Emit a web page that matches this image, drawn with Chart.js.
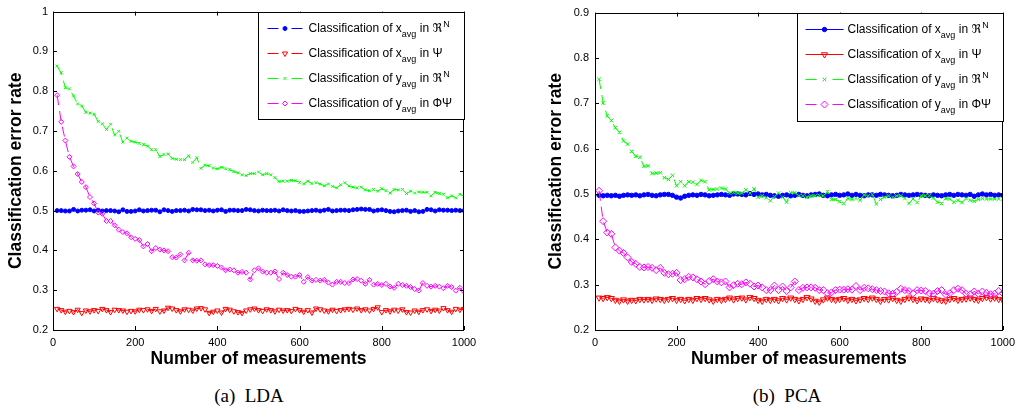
<!DOCTYPE html>
<html>
<head>
<meta charset="utf-8">
<title>Classification error rate</title>
<script src="https://cdn.jsdelivr.net/npm/chart.js@4.4.1/dist/chart.umd.min.js"></script>
<style>
    body {
        margin: 0;
        background: #fff;
        width: 1021px;
        height: 412px;
        position: relative;
        overflow: hidden;
    }
    canvas {
        position: absolute;
        top: 0;
    }
    #lda-chart { left: 0; }
    #pca-chart { left: 540px; }
    .caption {
        position: absolute;
        top: 385px;
        width: 200px;
        text-align: center;
        font: 19px 'Liberation Serif', 'Times New Roman', serif;
        white-space: pre;
        color: #000;
    }
</style>
</head>
<body>
<canvas id="lda-chart" width="490" height="372"></canvas>
<canvas id="pca-chart" width="481" height="372"></canvas>
<div class="caption" style="left:149px">(a)  LDA</div>
<div class="caption" style="left:687px">(b)  PCA</div>
<script>
// Number of measurements (x axis)
const measurements = [
    10, 20, 30, 40, 50, 60, 70, 80, 90, 100,
    110, 120, 130, 140, 150, 160, 170, 180, 190, 200,
    210, 220, 230, 240, 250, 260, 270, 280, 290, 300,
    310, 320, 330, 340, 350, 360, 370, 380, 390, 400,
    410, 420, 430, 440, 450, 460, 470, 480, 490, 500,
    510, 520, 530, 540, 550, 560, 570, 580, 590, 600,
    610, 620, 630, 640, 650, 660, 670, 680, 690, 700,
    710, 720, 730, 740, 750, 760, 770, 780, 790, 800,
    810, 820, 830, 840, 850, 860, 870, 880, 890, 900,
    910, 920, 930, 940, 950, 960, 970, 980, 990, 1000
];

const xTicks = [0, 200, 400, 600, 800, 1000];
const ldaYTicks = [0.2, 0.3, 0.4, 0.5, 0.6, 0.7, 0.8, 0.9, 1];
const pcaYTicks = [0.2, 0.3, 0.4, 0.5, 0.6, 0.7, 0.8, 0.9];

// legend text pieces: main text, subscript, text after, superscript
const legendParts = [
    ['Classification of x', 'avg', ' in \u211C', 'N'],
    ['Classification of x', 'avg', ' in \u03A8', ''],
    ['Classification of y', 'avg', ' in \u211C', 'N'],
    ['Classification of y', 'avg', ' in \u03A6\u03A8', '']
];

// (a) LDA
const ldaXavgRN = [
    0.500, 0.500, 0.499, 0.499, 0.503, 0.499, 0.501, 0.501, 0.502, 0.499,
    0.501, 0.499, 0.500, 0.500, 0.499, 0.497, 0.502, 0.498, 0.498, 0.499,
    0.502, 0.499, 0.500, 0.501, 0.501, 0.497, 0.502, 0.500, 0.498, 0.500,
    0.500, 0.501, 0.499, 0.503, 0.502, 0.502, 0.500, 0.501, 0.499, 0.501,
    0.502, 0.498, 0.501, 0.501, 0.500, 0.500, 0.503, 0.502, 0.500, 0.499,
    0.501, 0.500, 0.500, 0.501, 0.499, 0.502, 0.500, 0.499, 0.500, 0.498,
    0.498, 0.499, 0.500, 0.501, 0.499, 0.501, 0.503, 0.499, 0.500, 0.501,
    0.501, 0.500, 0.502, 0.503, 0.504, 0.503, 0.503, 0.499, 0.501, 0.502,
    0.500, 0.498, 0.497, 0.499, 0.500, 0.501, 0.498, 0.500, 0.497, 0.498,
    0.503, 0.502, 0.499, 0.502, 0.501, 0.501, 0.500, 0.501, 0.500, 0.500
];
const ldaXavgPsi = [
    0.253, 0.250, 0.246, 0.248, 0.245, 0.251, 0.243, 0.249, 0.247, 0.250,
    0.248, 0.253, 0.250, 0.245, 0.251, 0.250, 0.249, 0.246, 0.248, 0.247,
    0.251, 0.250, 0.252, 0.248, 0.253, 0.247, 0.249, 0.256, 0.254, 0.250,
    0.247, 0.252, 0.251, 0.249, 0.254, 0.255, 0.252, 0.243, 0.246, 0.249,
    0.244, 0.253, 0.251, 0.247, 0.245, 0.243, 0.249, 0.252, 0.254, 0.250,
    0.248, 0.252, 0.250, 0.247, 0.251, 0.249, 0.250, 0.248, 0.253, 0.250,
    0.246, 0.250, 0.244, 0.254, 0.252, 0.249, 0.247, 0.251, 0.248, 0.250,
    0.252, 0.253, 0.251, 0.254, 0.250, 0.252, 0.249, 0.253, 0.257, 0.245,
    0.250, 0.247, 0.251, 0.249, 0.252, 0.245, 0.244, 0.249, 0.246, 0.250,
    0.252, 0.248, 0.251, 0.249, 0.255, 0.250, 0.246, 0.253, 0.251, 0.253
];
const ldaYavgRN = [
    0.863, 0.846, 0.809, 0.806, 0.788, 0.768, 0.763, 0.747, 0.745, 0.742,
    0.724, 0.718, 0.704, 0.717, 0.690, 0.699, 0.672, 0.682, 0.674, 0.672,
    0.669, 0.666, 0.662, 0.653, 0.653, 0.636, 0.641, 0.642, 0.631, 0.629,
    0.628, 0.628, 0.638, 0.621, 0.633, 0.606, 0.614, 0.613, 0.607, 0.605,
    0.609, 0.605, 0.603, 0.598, 0.595, 0.590, 0.588, 0.593, 0.593, 0.597,
    0.590, 0.593, 0.590, 0.583, 0.573, 0.574, 0.574, 0.576, 0.575, 0.571,
    0.567, 0.574, 0.568, 0.570, 0.567, 0.562, 0.567, 0.561, 0.557, 0.565,
    0.570, 0.562, 0.559, 0.557, 0.559, 0.552, 0.550, 0.553, 0.549, 0.555,
    0.550, 0.544, 0.553, 0.552, 0.553, 0.543, 0.549, 0.544, 0.547, 0.546,
    0.546, 0.537, 0.546, 0.543, 0.541, 0.532, 0.537, 0.532, 0.541, 0.536
];
const ldaYavgPhiPsi = [
    0.790, 0.723, 0.676, 0.635, 0.611, 0.592, 0.572, 0.559, 0.534, 0.518,
    0.495, 0.492, 0.474, 0.474, 0.463, 0.452, 0.446, 0.443, 0.433, 0.429,
    0.426, 0.410, 0.416, 0.398, 0.406, 0.402, 0.400, 0.398, 0.383, 0.382,
    0.390, 0.375, 0.394, 0.375, 0.374, 0.375, 0.365, 0.363, 0.363, 0.361,
    0.357, 0.350, 0.352, 0.350, 0.344, 0.346, 0.344, 0.327, 0.350, 0.355,
    0.347, 0.344, 0.344, 0.347, 0.328, 0.344, 0.338, 0.334, 0.334, 0.338,
    0.321, 0.333, 0.324, 0.326, 0.324, 0.326, 0.319, 0.314, 0.321, 0.321,
    0.318, 0.318, 0.327, 0.328, 0.324, 0.316, 0.326, 0.314, 0.316, 0.313,
    0.316, 0.309, 0.306, 0.316, 0.313, 0.311, 0.308, 0.303, 0.299, 0.318,
    0.311, 0.309, 0.311, 0.309, 0.305, 0.311, 0.308, 0.299, 0.306, 0.296
];

// (b) PCA
const pcaXavgRN = [
    0.497, 0.496, 0.497, 0.496, 0.497, 0.495, 0.497, 0.498, 0.497, 0.498,
    0.496, 0.498, 0.499, 0.497, 0.496, 0.498, 0.499, 0.499, 0.497, 0.493,
    0.491, 0.495, 0.497, 0.498, 0.497, 0.499, 0.498, 0.496, 0.497, 0.498,
    0.499, 0.498, 0.497, 0.500, 0.500, 0.499, 0.498, 0.501, 0.499, 0.500,
    0.498, 0.499, 0.497, 0.496, 0.495, 0.497, 0.498, 0.496, 0.497, 0.499,
    0.497, 0.496, 0.498, 0.499, 0.500, 0.497, 0.496, 0.498, 0.499, 0.497,
    0.498, 0.500, 0.497, 0.499, 0.497, 0.496, 0.498, 0.498, 0.497, 0.499,
    0.498, 0.497, 0.496, 0.497, 0.499, 0.498, 0.497, 0.498, 0.499, 0.498,
    0.497, 0.496, 0.498, 0.497, 0.496, 0.498, 0.499, 0.497, 0.499, 0.498,
    0.497, 0.499, 0.495, 0.498, 0.500, 0.498, 0.499, 0.497, 0.498, 0.497
];
const pcaXavgPsi = [
    0.271, 0.270, 0.272, 0.270, 0.266, 0.264, 0.267, 0.264, 0.266, 0.265,
    0.268, 0.267, 0.268, 0.266, 0.269, 0.268, 0.266, 0.268, 0.270, 0.266,
    0.268, 0.265, 0.268, 0.266, 0.270, 0.268, 0.270, 0.267, 0.264, 0.268,
    0.266, 0.268, 0.271, 0.267, 0.270, 0.271, 0.267, 0.272, 0.270, 0.266,
    0.264, 0.268, 0.266, 0.268, 0.265, 0.270, 0.267, 0.271, 0.268, 0.265,
    0.268, 0.272, 0.269, 0.264, 0.262, 0.267, 0.271, 0.268, 0.266, 0.268,
    0.270, 0.266, 0.268, 0.265, 0.267, 0.270, 0.268, 0.271, 0.268, 0.264,
    0.268, 0.267, 0.270, 0.266, 0.264, 0.268, 0.271, 0.268, 0.265, 0.269,
    0.268, 0.266, 0.270, 0.267, 0.265, 0.264, 0.268, 0.270, 0.266, 0.268,
    0.269, 0.271, 0.268, 0.266, 0.270, 0.272, 0.269, 0.271, 0.268, 0.266
];
const pcaYavgRN = [
    0.753, 0.701, 0.672, 0.662, 0.646, 0.636, 0.617, 0.610, 0.594, 0.583,
    0.581, 0.561, 0.562, 0.545, 0.546, 0.547, 0.536, 0.532, 0.541, 0.518,
    0.527, 0.518, 0.527, 0.526, 0.521, 0.530, 0.527, 0.509, 0.510, 0.511,
    0.513, 0.511, 0.502, 0.503, 0.502, 0.502, 0.509, 0.502, 0.511, 0.493,
    0.496, 0.492, 0.485, 0.494, 0.502, 0.493, 0.482, 0.503, 0.503, 0.496,
    0.496, 0.493, 0.496, 0.496, 0.497, 0.496, 0.505, 0.488, 0.488, 0.483,
    0.479, 0.490, 0.488, 0.490, 0.486, 0.498, 0.496, 0.499, 0.478, 0.488,
    0.493, 0.496, 0.493, 0.496, 0.496, 0.490, 0.479, 0.489, 0.481, 0.496,
    0.496, 0.496, 0.491, 0.482, 0.479, 0.490, 0.489, 0.482, 0.486, 0.481,
    0.490, 0.486, 0.484, 0.488, 0.490, 0.489, 0.489, 0.489, 0.489, 0.489
];
const pcaYavgPhiPsi = [
    0.507, 0.440, 0.415, 0.412, 0.382, 0.375, 0.370, 0.360, 0.350, 0.346,
    0.339, 0.338, 0.339, 0.337, 0.332, 0.337, 0.326, 0.323, 0.324, 0.326,
    0.310, 0.312, 0.317, 0.316, 0.312, 0.307, 0.301, 0.308, 0.312, 0.307,
    0.305, 0.307, 0.294, 0.299, 0.302, 0.301, 0.305, 0.302, 0.296, 0.298,
    0.294, 0.288, 0.288, 0.298, 0.288, 0.296, 0.286, 0.294, 0.307, 0.288,
    0.293, 0.294, 0.294, 0.293, 0.288, 0.288, 0.281, 0.283, 0.288, 0.289,
    0.289, 0.290, 0.289, 0.297, 0.288, 0.293, 0.292, 0.290, 0.288, 0.286,
    0.285, 0.281, 0.280, 0.284, 0.291, 0.288, 0.286, 0.281, 0.288, 0.287,
    0.286, 0.281, 0.280, 0.286, 0.288, 0.278, 0.281, 0.288, 0.291, 0.288,
    0.280, 0.279, 0.285, 0.280, 0.285, 0.282, 0.279, 0.280, 0.286, 0.281
];

const SANS = "'Liberation Sans', Arial, 'DejaVu Sans', sans-serif";

function toPoints(values) {
    return measurements.map((m, i) => ({ x: m, y: values[i] }));
}

// Axes frame with inward tick marks on all four sides
const boxTicks = {
    id: 'boxTicks',
    afterDatasetsDraw(chart) {
        const { ctx, chartArea: a, scales } = chart;
        const len = 4;
        ctx.save();
        ctx.strokeStyle = '#000';
        ctx.lineWidth = 1;
        ctx.beginPath();
        scales.x.ticks.forEach(t => {
            const px = Math.round(scales.x.getPixelForValue(t.value)) + 0.5;
            ctx.moveTo(px, a.bottom); ctx.lineTo(px, a.bottom - len);
            ctx.moveTo(px, a.top); ctx.lineTo(px, a.top + len);
        });
        scales.y.ticks.forEach(t => {
            const py = Math.round(scales.y.getPixelForValue(t.value)) + 0.5;
            ctx.moveTo(a.left, py); ctx.lineTo(a.left + len, py);
            ctx.moveTo(a.right, py); ctx.lineTo(a.right - len, py);
        });
        ctx.stroke();
        ctx.strokeRect(Math.round(a.left) + 0.5, Math.round(a.top) + 0.5,
            Math.round(a.right - a.left) - 1, Math.round(a.bottom - a.top));
        ctx.restore();
    }
};

// Boxed legend in the upper right corner, with sub/superscripts
const boxLegend = {
    id: 'boxLegend',
    afterDraw(chart, args, opts) {
        const { ctx, chartArea: a } = chart;
        const bx = Math.round(a.right - opts.width) + 0.5;
        const by = Math.round(a.top) + 0.5;
        ctx.save();
        ctx.fillStyle = '#fff';
        ctx.fillRect(bx, by, opts.width, opts.height);
        ctx.strokeStyle = '#000';
        ctx.lineWidth = 1;
        ctx.strokeRect(bx, by, opts.width, opts.height);

        chart.data.datasets.forEach((ds, i) => {
            const y = by + 16 + i * 25;
            const x0 = bx + opts.lineStart;
            const x1 = bx + opts.lineEnd;
            const xm = (x0 + x1) / 2;
            ctx.strokeStyle = ds.borderColor;
            ctx.lineWidth = 1;
            ctx.beginPath();
            if (ds.borderDash.length) {
                // dashed sample: one dash either side of the marker
                ctx.moveTo(x0, y); ctx.lineTo(x0 + 11, y);
                ctx.moveTo(x1 - 11, y); ctx.lineTo(x1, y);
            } else {
                ctx.moveTo(x0, y); ctx.lineTo(x1, y);
            }
            ctx.stroke();
            ctx.fillStyle = ds.pointBackgroundColor;
            Chart.helpers.drawPoint(ctx, {
                pointStyle: ds.pointStyle,
                radius: ds.pointRadius,
                rotation: ds.pointRotation || 0,
                borderWidth: 1
            }, xm, y);

            const parts = legendParts[i];
            let tx = bx + opts.textStart;
            ctx.fillStyle = '#000';
            ctx.textBaseline = 'middle';
            ctx.textAlign = 'left';
            ctx.font = '12px ' + SANS;
            ctx.fillText(parts[0], tx, y);
            tx += ctx.measureText(parts[0]).width;
            ctx.font = '9px ' + SANS;
            ctx.fillText(parts[1], tx, y + 6);
            tx += ctx.measureText(parts[1]).width;
            ctx.font = '12px ' + SANS;
            ctx.fillText(parts[2], tx, y);
            tx += ctx.measureText(parts[2]).width;
            if (parts[3]) {
                ctx.font = '9px ' + SANS;
                ctx.fillText(parts[3], tx + 1, y - 4);
            }
        });
        ctx.restore();
    }
};

function makeChart(id, series, yTicks, styles, legendBox, yWidth, yPad) {
    const colors = ['#0000ff', '#ff0000', '#00ff00', '#ff00ff'];
    const datasets = series.map((values, i) => ({
        data: toPoints(values),
        borderColor: colors[i],
        pointBorderColor: colors[i],
        pointBackgroundColor: styles[i].filled ? colors[i] : 'rgba(0,0,0,0)',
        pointStyle: styles[i].shape,
        pointRadius: styles[i].radius,
        pointRotation: styles[i].rotation || 0,
        pointBorderWidth: 1,
        borderWidth: 1,
        borderDash: styles[i].dashed ? [10, 6] : [],
        tension: 0,
        order: 4 - i
    }));

    return new Chart(document.getElementById(id), {
        type: 'line',
        data: { datasets },
        options: {
            responsive: false,
            animation: false,
            devicePixelRatio: 1,
            layout: { padding: { top: 7, right: legendBox.rightPad, left: 0, bottom: 0 } },
            plugins: {
                legend: { display: false },
                tooltip: { enabled: false },
                boxLegend: legendBox
            },
            scales: {
                x: {
                    type: 'linear',
                    min: 0,
                    max: 1000,
                    afterBuildTicks: s => { s.ticks = xTicks.map(v => ({ value: v })); },
                    afterFit: s => { s.height = 42; },
                    grid: { display: false, drawTicks: false },
                    border: { display: false },
                    ticks: {
                        color: '#000',
                        font: { family: SANS, size: 11 },
                        padding: 6,
                        maxRotation: 0,
                        autoSkip: false,
                        callback: v => String(v)
                    },
                    title: {
                        display: true,
                        text: 'Number of measurements',
                        color: '#000',
                        font: { family: SANS, size: 17.5, weight: 'bold' },
                        padding: { top: 0, bottom: 2 }
                    }
                },
                y: {
                    type: 'linear',
                    min: yTicks[0],
                    max: yTicks[yTicks.length - 1],
                    afterBuildTicks: s => { s.ticks = yTicks.map(v => ({ value: v })); },
                    afterFit: s => { s.width = yWidth; },
                    grid: { display: false, drawTicks: false },
                    border: { display: false },
                    ticks: {
                        color: '#000',
                        font: { family: SANS, size: 11 },
                        padding: yPad,
                        autoSkip: false,
                        callback: v => String(v)
                    },
                    title: {
                        display: true,
                        text: 'Classification error rate',
                        color: '#000',
                        font: { family: SANS, size: 17.5, weight: 'bold' },
                        padding: { top: 6, bottom: 0 }
                    }
                }
            }
        },
        plugins: [boxTicks, boxLegend]
    });
}

makeChart('lda-chart',
    [ldaXavgRN, ldaXavgPsi, ldaYavgRN, ldaYavgPhiPsi],
    ldaYTicks,
    [
        { shape: 'circle', radius: 2, filled: true, dashed: true },
        { shape: 'triangle', radius: 3, rotation: 180, filled: false, dashed: true },
        { shape: 'crossRot', radius: 2, filled: false, dashed: true },
        { shape: 'rectRot', radius: 2.5, filled: false, dashed: true }
    ],
    { width: 206, height: 107, lineStart: 9, lineEnd: 44, textStart: 50, rightPad: 26 },
    53, 5);

makeChart('pca-chart',
    [pcaXavgRN, pcaXavgPsi, pcaYavgRN, pcaYavgPhiPsi],
    pcaYTicks,
    [
        { shape: 'circle', radius: 2.2, filled: true, dashed: false },
        { shape: 'triangle', radius: 3.5, rotation: 180, filled: false, dashed: false },
        { shape: 'crossRot', radius: 2.5, filled: false, dashed: true },
        { shape: 'rectRot', radius: 3.5, filled: false, dashed: true }
    ],
    { width: 206, height: 108, lineStart: 8, lineEnd: 46, textStart: 50, rightPad: 16 },
    55, 6);
</script>
</body>
</html>
